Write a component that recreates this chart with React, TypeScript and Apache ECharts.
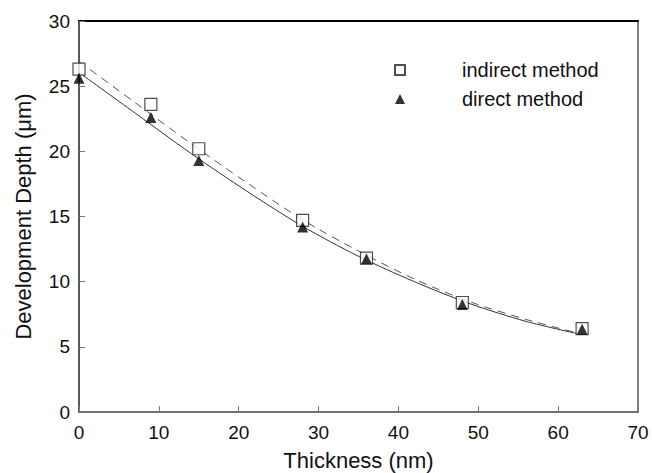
import React, { useEffect, useRef } from "react";
import * as echarts from "echarts";

const thickness = [0, 9, 15, 28, 36, 48, 63];
const indirectDepth = [26.3, 23.6, 20.2, 14.7, 11.8, 8.4, 6.4];
const directDepth = [25.6, 22.6, 19.3, 14.2, 11.75, 8.25, 6.35];

// fitted curves
const fitX = [0, 7, 14, 21, 28, 35, 42, 49, 56, 62.5];
const indirectFitY = [26.9, 23.75, 20.6, 17.6, 14.75, 12.35, 10.2, 8.45, 7.1, 6.05];
const directFitY = [26.05, 22.95, 19.85, 16.95, 14.25, 11.95, 10.0, 8.3, 6.95, 6.0];

const xTicks = [0, 10, 20, 30, 40, 50, 60, 70];
const yTicks = [0, 5, 10, 15, 20, 25, 30];

const FONT = "Liberation Sans, Arial, sans-serif";

export default function App() {
  const ref = useRef<HTMLDivElement>(null);
  useEffect(() => {
    if (!ref.current) return;
    const chart = echarts.init(ref.current, null, { renderer: "svg" });
    const pairs = (xs: number[], ys: number[]) => xs.map((x, i) => [x, ys[i]]);
    const xMin = xTicks[0];
    const xMax = xTicks[xTicks.length - 1];
    const yMin = yTicks[0];
    const yMax = yTicks[yTicks.length - 1];
    chart.setOption({
      animation: false,
      backgroundColor: "#fff",
      textStyle: { fontFamily: FONT },
      grid: {
        left: 79,
        right: 14,
        top: 21,
        bottom: 61,
        outerBoundsMode: "none",
      },
      legend: {
        data: ["indirect method", "direct method"],
        orient: "vertical",
        left: 389,
        top: 55,
        itemWidth: 10,
        itemHeight: 10,
        itemGap: 9,
        textStyle: {
          fontFamily: FONT,
          fontSize: 20,
          color: "#111",
          lineHeight: 20,
          padding: [0, 0, 0, 52],
        },
      },
      xAxis: [
        {
          type: "value",
          min: xMin,
          max: xMax,
          interval: 10,
          name: "Thickness (nm)",
          nameLocation: "middle",
          nameGap: 37,
          nameTextStyle: { fontFamily: FONT, fontSize: 22, color: "#111" },
          axisLine: { show: true, lineStyle: { color: "#444", width: 1.5 } },
          axisTick: { show: true, inside: true, length: 6, lineStyle: { color: "#777" } },
          axisLabel: { fontFamily: FONT, fontSize: 19, color: "#111", margin: 11 },
          splitLine: { show: false },
        },
        {
          type: "value",
          position: "top",
          min: xMin,
          max: xMax,
          interval: 10,
          axisLine: { show: true, onZero: false, lineStyle: { color: "#000", width: 2 } },
          axisTick: { show: false },
          axisLabel: { show: false },
          splitLine: { show: false },
        },
      ],
      yAxis: [
        {
          type: "value",
          min: yMin,
          max: yMax,
          interval: 5,
          name: "Development Depth (\u03bcm)",
          nameLocation: "middle",
          nameGap: 45,
          nameTextStyle: { fontFamily: FONT, fontSize: 22, color: "#111" },
          axisLine: { show: true, lineStyle: { color: "#222", width: 1.5 } },
          axisTick: { show: true, inside: true, length: 6, lineStyle: { color: "#777" } },
          axisLabel: { fontFamily: FONT, fontSize: 19, color: "#111", margin: 9 },
          splitLine: { show: false },
        },
        {
          type: "value",
          position: "right",
          min: yMin,
          max: yMax,
          interval: 5,
          axisLine: { show: true, onZero: false, lineStyle: { color: "#555", width: 1.5 } },
          axisTick: { show: false },
          axisLabel: { show: false },
          splitLine: { show: false },
        },
      ],
      series: [
        {
          name: "indirect fit",
          type: "line",
          data: pairs(fitX, indirectFitY),
          smooth: 0.3,
          showSymbol: false,
          symbol: "none",
          lineStyle: { color: "#555", width: 1, type: [8, 6] },
          z: 1,
        },
        {
          name: "direct fit",
          type: "line",
          data: pairs(fitX, directFitY),
          smooth: 0.3,
          showSymbol: false,
          symbol: "none",
          lineStyle: { color: "#333", width: 1 },
          z: 1,
        },
        {
          name: "indirect method",
          type: "scatter",
          data: pairs(thickness, indirectDepth),
          symbol: "rect",
          symbolSize: 12,
          itemStyle: { color: "#fff", borderColor: "#222", borderWidth: 1.2 },
          z: 3,
        },
        {
          name: "direct method",
          type: "scatter",
          data: pairs(thickness, directDepth),
          symbol: "triangle",
          symbolSize: 11,
          itemStyle: { color: "#000" },
          z: 4,
        },
      ],
    });
    return () => chart.dispose();
  }, []);
  return <div ref={ref} style={{ width: 652, height: 473, position: "absolute", left: 0, top: 0 }} />;
}
